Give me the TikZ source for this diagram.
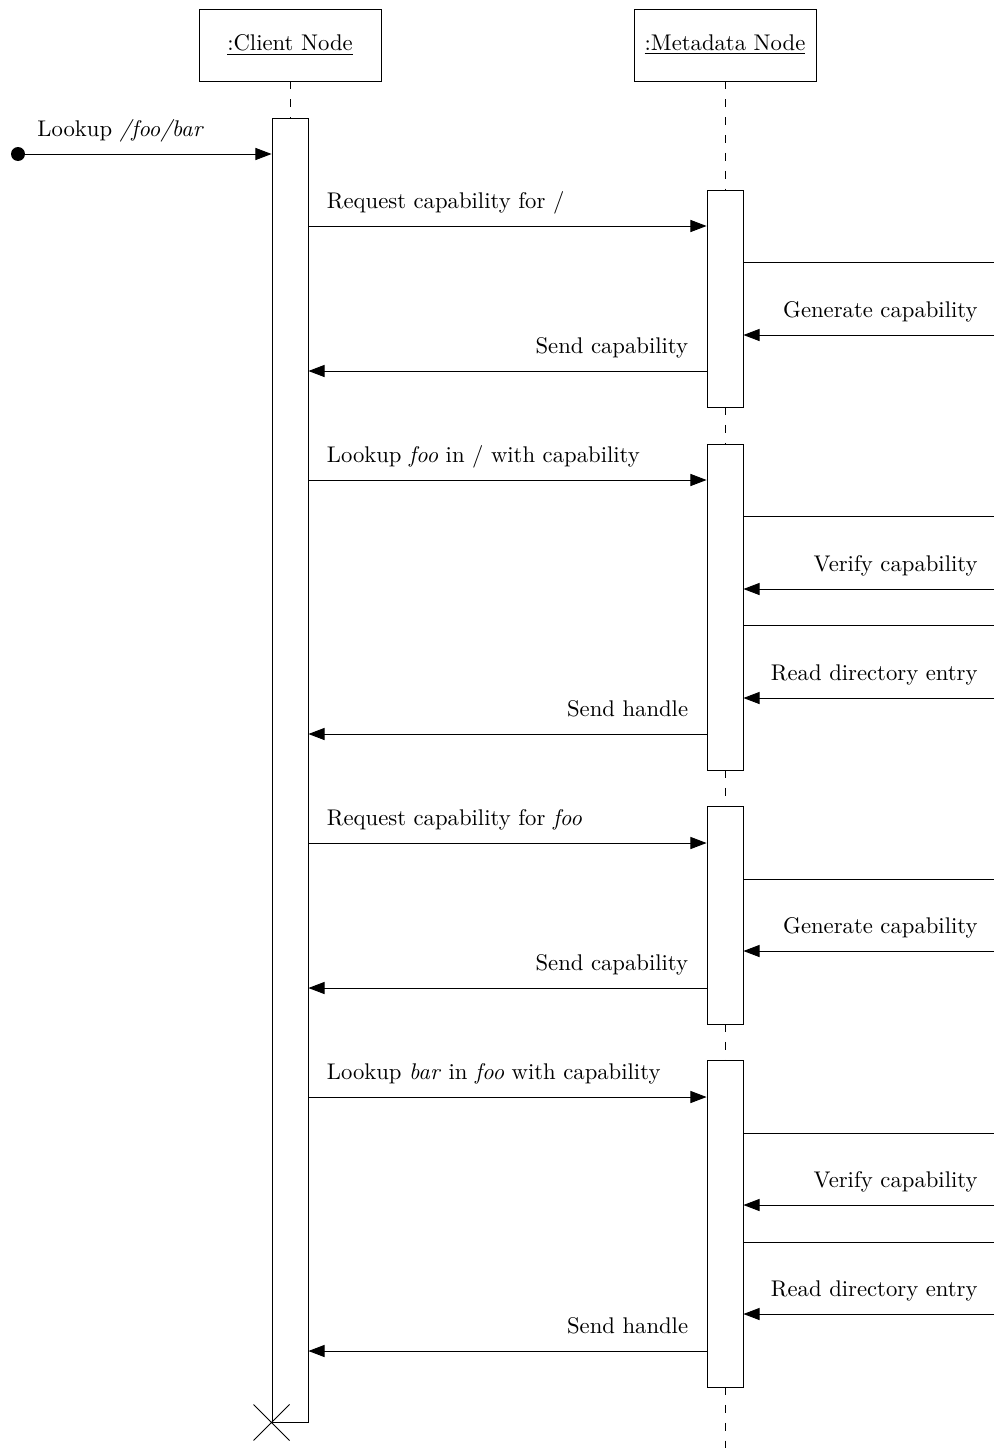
\documentclass[tikz,border=0pt]{standalone}
\usetikzlibrary{arrows.meta}
\begin{document}
\begin{tikzpicture}[x=0.4474pt,y=-0.4474pt,
  every node/.style={font=\fontsize{10.15pt}{12pt}\selectfont},
  header/.style={draw,minimum width=81.43pt,minimum height=32.21pt,inner sep=0pt},
  act/.style={draw,fill=white,minimum width=16.11pt,inner sep=0pt},
  life/.style={dash pattern=on 3.6pt off 4.4pt},
  msg/.style={-{Triangle[length=7.2pt,width=5.4pt]}},
  lbl/.style={inner sep=0pt},
]
\useasboundingbox (0,0) rectangle (994,1448);

% object headers
\node[header] (client) at (290,45) {\underline{:Client Node}};
\node[header] (meta)   at (725,45) {\underline{:Metadata Node}};

% activation bars (positioned by their centres)
\coordinate (ca-c) at (290,770);
\coordinate (m1-c) at (725,298.5);
\coordinate (m2-c) at (725,607);
\coordinate (m3-c) at (725,915);
\coordinate (m4-c) at (725,1223.5);
\coordinate (metaend) at (725,1448);

% lifelines
\draw[life] (client.south) -- (client.south |- 0,118);
\draw[life] (meta.south) -- (meta.south |- 0,190);
\draw[life] (meta.south |- 0,407) -- (meta.south |- 0,444);
\draw[life] (meta.south |- 0,770) -- (meta.south |- 0,806);
\draw[life] (meta.south |- 0,1024) -- (meta.south |- 0,1060);
\draw[life] (meta.south |- 0,1387) -- (metaend);

\node[act,minimum height=583.42pt] (ca) at (ca-c) {};
\node[act,minimum height=97.09pt]  (m1) at (m1-c) {};
\node[act,minimum height=145.85pt] (m2) at (m2-c) {};
\node[act,minimum height=97.53pt]  (m3) at (m3-c) {};
\node[act,minimum height=146.30pt] (m4) at (m4-c) {};

% destruction mark
\draw (ca.south west) +(-18,-18) -- +(18,18)
      (ca.south west) +(-18,18) -- +(18,-18);

% found message
\node[circle,fill,inner sep=0pt,minimum size=6.26pt] (start) at (18,154) {};
\draw[msg] (start) -- (start -| ca.west);
\node[lbl,anchor=base west] at (37,136) {Lookup \textit{/foo/bar}};

% message levels
\coordinate (q1) at (0,226);  \coordinate (s1) at (0,371);
\coordinate (q2) at (0,480);  \coordinate (s2) at (0,734);
\coordinate (q3) at (0,843);  \coordinate (s3) at (0,988);
\coordinate (q4) at (0,1097); \coordinate (s4) at (0,1351);

% self-call ends at the right edge
\coordinate (r1a) at (994,262);  \coordinate (r1b) at (994,335);
\coordinate (r2a) at (994,516);  \coordinate (r2b) at (994,589);
\coordinate (r2c) at (994,625);  \coordinate (r2d) at (994,698);
\coordinate (r3a) at (994,879);  \coordinate (r3b) at (994,951);
\coordinate (r4a) at (994,1133); \coordinate (r4b) at (994,1205);
\coordinate (r4c) at (994,1242); \coordinate (r4d) at (994,1314);

% --- first exchange
\draw[msg] (q1 -| ca.east) -- (q1 -| m1.west);
\path (q1 -| ca.east) ++(18,-18) node[lbl,anchor=base west] {Request capability for /};
\draw (r1a -| m1.east) -- (r1a);
\draw[msg] (r1b) -- (r1b -| m1.east);
\path (r1b) ++(-16,-18) node[lbl,anchor=base east] {Generate capability};
\draw[msg] (s1 -| m1.west) -- (s1 -| ca.east);
\path (s1 -| m1.west) ++(-18,-18) node[lbl,anchor=base east] {Send capability};

% --- second exchange
\draw[msg] (q2 -| ca.east) -- (q2 -| m2.west);
\path (q2 -| ca.east) ++(18,-18) node[lbl,anchor=base west] {Lookup \textit{foo} in / with capability};
\draw (r2a -| m2.east) -- (r2a);
\draw[msg] (r2b) -- (r2b -| m2.east);
\path (r2b) ++(-16,-18) node[lbl,anchor=base east] {Verify capability};
\draw (r2c -| m2.east) -- (r2c);
\draw[msg] (r2d) -- (r2d -| m2.east);
\path (r2d) ++(-16,-18) node[lbl,anchor=base east] {Read directory entry};
\draw[msg] (s2 -| m2.west) -- (s2 -| ca.east);
\path (s2 -| m2.west) ++(-18,-18) node[lbl,anchor=base east] {Send handle};

% --- third exchange
\draw[msg] (q3 -| ca.east) -- (q3 -| m3.west);
\path (q3 -| ca.east) ++(18,-18) node[lbl,anchor=base west] {Request capability for \textit{foo}};
\draw (r3a -| m3.east) -- (r3a);
\draw[msg] (r3b) -- (r3b -| m3.east);
\path (r3b) ++(-16,-18) node[lbl,anchor=base east] {Generate capability};
\draw[msg] (s3 -| m3.west) -- (s3 -| ca.east);
\path (s3 -| m3.west) ++(-18,-18) node[lbl,anchor=base east] {Send capability};

% --- fourth exchange
\draw[msg] (q4 -| ca.east) -- (q4 -| m4.west);
\path (q4 -| ca.east) ++(18,-18) node[lbl,anchor=base west] {Lookup \textit{bar} in \textit{foo} with capability};
\draw (r4a -| m4.east) -- (r4a);
\draw[msg] (r4b) -- (r4b -| m4.east);
\path (r4b) ++(-16,-18) node[lbl,anchor=base east] {Verify capability};
\draw (r4c -| m4.east) -- (r4c);
\draw[msg] (r4d) -- (r4d -| m4.east);
\path (r4d) ++(-16,-18) node[lbl,anchor=base east] {Read directory entry};
\draw[msg] (s4 -| m4.west) -- (s4 -| ca.east);
\path (s4 -| m4.west) ++(-18,-18) node[lbl,anchor=base east] {Send handle};
\end{tikzpicture}
\end{document}
